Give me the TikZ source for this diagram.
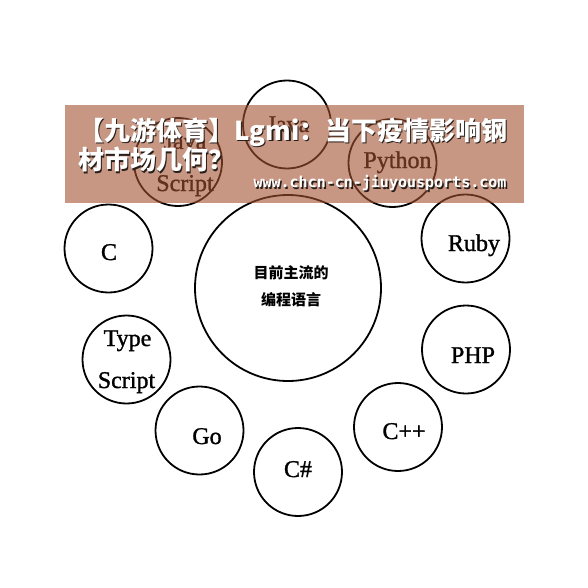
\documentclass[tikz,border=0pt]{standalone}
\usepackage{fontspec}
\setmainfont{Liberation Serif}
\newfontfamily\labelfont[FakeBold=1.2]{Liberation Serif}
\newfontfamily\cjkfont{Noto Sans CJK SC}
\newfontfamily\urlfont{DejaVu Sans Mono}
\definecolor{bannerc}{RGB}{163,82,50}
\definecolor{shadowc}{RGB}{40,30,25}
\begin{document}
\begin{tikzpicture}[x=1pt,y=-1pt,
  ring/.style={circle,draw=black,line width=1.8pt,inner sep=0pt,outer sep=0pt,minimum size=#1},
  lang/.style={font=\labelfont\fontsize{24}{24}\selectfont,inner sep=0pt,anchor=base},
  hub/.style={font=\cjkfont\bfseries\fontsize{15}{15}\selectfont,inner sep=0pt},
  titletxt/.style={font=\cjkfont\bfseries\fontsize{26}{26}\selectfont,inner sep=0pt,anchor=west},
  urltxt/.style={font=\urlfont\bfseries\fontsize{15}{15}\selectfont,inner sep=0pt}
]
\fill[white] (0,0) rectangle (588,588);
\useasboundingbox (0,0) rectangle (588,588);

% central circle
\node[ring=186pt] (hubc) at (288,288) {};
\node[hub] (hub1) at (291,273) {目前主流的};
\node[hub] (hub2) at (291,300) {编程语言};

% satellite circles
\node[ring=88pt] (java) at (287,124.5) {};
\node[ring=88pt] (python) at (392.5,163) {};
\node[ring=88pt] (js) at (178,162) {};
\node[ring=88pt] (ruby) at (465.5,238.5) {};
\node[ring=88pt] (php) at (466,349.5) {};
\node[ring=88pt] (cpp) at (398,427) {};
\node[ring=88pt] (cs) at (298,472) {};
\node[ring=88pt] (go) at (199.5,430.5) {};
\node[ring=88pt] (ts) at (126.5,359.5) {};
\node[ring=88pt] (c) at (108.5,248.5) {};

% labels
\node[lang] (java-t) at (288,132) {Java};
\node[lang] (python-t) at (397.5,168) {Python};
\node[lang] (js-a) at (185,149) {Java};
\node[lang] (js-b) at (185,191) {Script};
\node[lang] (ruby-t) at (474,251) {Ruby};
\node[lang] (php-t) at (473,363) {PHP};
\node[lang] (cpp-t) at (404,439) {C++};
\node[lang] (cs-t) at (298,477) {C\#};
\node[lang] (go-t) at (207,444) {Go};
\node[lang] (ts-a) at (127.5,346) {Type};
\node[lang] (ts-b) at (126.5,388) {Script};
\node[lang] (c-t) at (109,260) {C};

% overlay banner
\fill[bannerc,fill opacity=0.6] (65,105) rectangle (524,203);
\node[titletxt,text=shadowc] (t1s) at (79.5,133.5) {【九游体育】Lgmi：当下疫情影响钢};
\node[titletxt,text=white] (t1) at (78,132) {【九游体育】Lgmi：当下疫情影响钢};
\node[titletxt,text=shadowc] (t2s) at (79.5,161.5) {材市场几何？};
\node[titletxt,text=white] (t2) at (78,160) {材市场几何？};
\node[urltxt,text=shadowc] (urls) at (381.5,184.5) {www.chcn-cn-jiuyousports.com};
\node[urltxt,text=white] (url) at (380,183) {www.chcn-cn-jiuyousports.com};
\end{tikzpicture}
\end{document}
